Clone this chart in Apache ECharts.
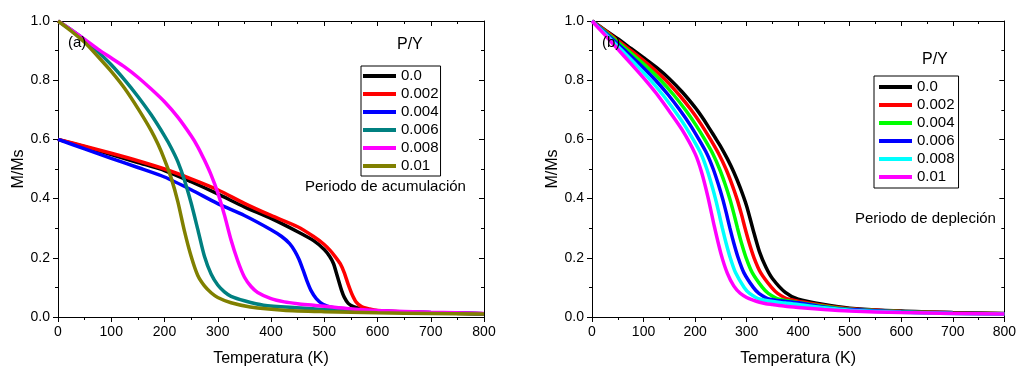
<!DOCTYPE html>
<html>
<head>
<meta charset="utf-8">
<script src="https://cdn.jsdelivr.net/npm/echarts@6/dist/echarts.min.js"></script>
<style>
  html, body { margin: 0; padding: 0; background: #fff; }
  #chart { width: 1019px; height: 372px; }
</style>
</head>
<body>
<div id="chart"></div>
<script>
// ---- Panel (a): Periodo de acumulación ----
const legendLabelsA = ['0.0', '0.002', '0.004', '0.006', '0.008', '0.01'];
const colorsA = ['#000000', '#ff0000', '#0000ff', '#008080', '#ff00ff', '#808000'];

const tA0 = [0, 50, 100, 150, 200, 250, 300, 350, 400, 450, 480, 500, 510, 517.5, 522.5, 527.5, 532.5, 537.5, 545, 555, 573, 600, 650, 700, 800];
const mA0 = [0.600, 0.575, 0.549, 0.522, 0.495, 0.457, 0.416, 0.372, 0.333, 0.288, 0.258, 0.228, 0.205, 0.180, 0.150, 0.120, 0.090, 0.067, 0.046, 0.035, 0.027, 0.020, 0.016, 0.014, 0.011];

const tA1 = [0, 50, 100, 150, 200, 250, 300, 350, 400, 450, 480, 500, 511, 520, 530, 537.5, 545, 552.5, 560, 570, 585, 600, 650, 700, 800];
const mA1 = [0.600, 0.577, 0.553, 0.528, 0.500, 0.467, 0.430, 0.384, 0.343, 0.305, 0.272, 0.245, 0.225, 0.205, 0.180, 0.150, 0.110, 0.075, 0.050, 0.035, 0.027, 0.022, 0.017, 0.014, 0.011];

const tA2 = [0, 50, 100, 150, 200, 250, 300, 350, 400, 420, 435, 445, 452.5, 460, 467.5, 475, 485, 497.5, 515, 550, 600, 700, 800];
const mA2 = [0.600, 0.568, 0.536, 0.505, 0.473, 0.430, 0.383, 0.343, 0.295, 0.272, 0.248, 0.222, 0.195, 0.160, 0.122, 0.090, 0.062, 0.043, 0.032, 0.025, 0.020, 0.015, 0.011];

const tA3 = [0, 25, 50, 75, 100, 125, 150, 175, 200, 212.5, 225, 237.5, 250, 262.5, 275, 287.5, 300, 312.5, 325, 350, 386, 448, 500, 600, 700, 800];
const mA3 = [1.0, 0.970, 0.937, 0.896, 0.852, 0.801, 0.745, 0.683, 0.612, 0.572, 0.525, 0.462, 0.385, 0.296, 0.205, 0.145, 0.108, 0.085, 0.070, 0.055, 0.040, 0.031, 0.025, 0.018, 0.014, 0.011];

const tA4 = [0, 25, 50, 75, 100, 125, 150, 175, 200, 225, 250, 262.5, 275, 287.5, 300, 312.5, 325, 337.5, 350, 362.5, 375, 400, 425, 450, 480, 542, 600, 700, 800];
const mA4 = [1.0, 0.970, 0.938, 0.905, 0.875, 0.845, 0.810, 0.770, 0.727, 0.675, 0.612, 0.575, 0.530, 0.480, 0.420, 0.345, 0.260, 0.190, 0.135, 0.103, 0.083, 0.062, 0.051, 0.045, 0.040, 0.029, 0.022, 0.016, 0.012];

const tA5 = [0, 25, 50, 75, 100, 125, 150, 175, 187.5, 200, 212.5, 225, 237.5, 250, 262.5, 275, 287.5, 300, 325, 361, 423, 500, 600, 700, 800];
const mA5 = [1.0, 0.966, 0.928, 0.880, 0.830, 0.773, 0.705, 0.630, 0.585, 0.532, 0.470, 0.390, 0.290, 0.205, 0.140, 0.105, 0.082, 0.066, 0.048, 0.034, 0.023, 0.018, 0.014, 0.012, 0.010];

// ---- Panel (b): Periodo de depleción ----
const legendLabelsB = ['0.0', '0.002', '0.004', '0.006', '0.008', '0.01'];
const colorsB = ['#000000', '#ff0000', '#00ff00', '#0000ff', '#00ffff', '#ff00ff'];

const tB0 = [0, 25, 50, 75, 100, 125, 150, 175, 200, 212.5, 225, 237.5, 250, 262.5, 275, 287.5, 300, 312.5, 325, 337.5, 350, 375, 400, 450, 500, 600, 700, 800];
const mB0 = [1.0, 0.970, 0.940, 0.908, 0.876, 0.843, 0.805, 0.760, 0.708, 0.678, 0.645, 0.610, 0.575, 0.535, 0.490, 0.437, 0.375, 0.295, 0.220, 0.168, 0.130, 0.083, 0.060, 0.042, 0.030, 0.020, 0.015, 0.012];

const tB1 = [0, 38.7, 75.6, 111.5, 143, 169.3, 192.2, 212.1, 229.9, 246.3, 259.9, 271.2, 281.1, 289.5, 297, 305, 314.4, 327.1, 348.3, 360.1, 381.7, 450, 500, 600, 700, 800];
const mB1 = [1.0, 0.95, 0.90, 0.85, 0.80, 0.75, 0.70, 0.65, 0.60, 0.55, 0.50, 0.45, 0.40, 0.35, 0.30, 0.25, 0.20, 0.15, 0.10, 0.08, 0.06, 0.039, 0.028, 0.019, 0.014, 0.011];

const tB2 = [0, 35.7, 69.8, 103.3, 133.2, 158.7, 181.1, 201, 218.7, 234.8, 247.5, 258, 267.2, 275.1, 282.3, 290, 299, 310.9, 330.6, 342, 363.3, 450, 500, 600, 700, 800];
const mB2 = [1.0, 0.95, 0.90, 0.85, 0.80, 0.75, 0.70, 0.65, 0.60, 0.55, 0.50, 0.45, 0.40, 0.35, 0.30, 0.25, 0.20, 0.15, 0.10, 0.08, 0.06, 0.036, 0.026, 0.018, 0.013, 0.011];

const tB3 = [0, 32.6, 64.1, 95, 123.4, 148.2, 170.1, 190, 207.4, 223.4, 235.2, 244.8, 253.4, 260.8, 267.6, 275.1, 283.6, 294.6, 312.9, 323.8, 345, 400, 450, 500, 600, 700, 800];
const mB3 = [1.0, 0.95, 0.90, 0.85, 0.80, 0.75, 0.70, 0.65, 0.60, 0.55, 0.50, 0.45, 0.40, 0.35, 0.30, 0.25, 0.20, 0.15, 0.10, 0.08, 0.06, 0.048, 0.034, 0.025, 0.017, 0.013, 0.010];

const tB4 = [0, 29.6, 58.3, 86.8, 113.6, 137.6, 159, 178.9, 196.2, 211.9, 222.8, 231.6, 239.5, 246.4, 252.9, 260.1, 268.2, 278.4, 295.2, 305.7, 326.6, 375, 400, 450, 500, 600, 700, 800];
const mB4 = [1.0, 0.95, 0.90, 0.85, 0.80, 0.75, 0.70, 0.65, 0.60, 0.55, 0.50, 0.45, 0.40, 0.35, 0.30, 0.25, 0.20, 0.15, 0.10, 0.08, 0.06, 0.047, 0.042, 0.031, 0.023, 0.016, 0.012, 0.010];

const tB5 = [0, 25, 50, 75, 100, 125, 150, 175, 200, 212.5, 225, 237.5, 250, 262.5, 275, 287.5, 300, 312.5, 325, 337.5, 350, 375, 400, 450, 500, 600, 700, 800];
const mB5 = [1.0, 0.953, 0.905, 0.857, 0.808, 0.755, 0.695, 0.632, 0.552, 0.490, 0.405, 0.305, 0.215, 0.148, 0.105, 0.080, 0.066, 0.057, 0.050, 0.045, 0.042, 0.036, 0.032, 0.025, 0.020, 0.015, 0.012, 0.010];

// ---- Axis ticks ----
const tempTicks = { min: 0, max: 800, step: 100 };
const magTicks = { min: 0, max: 1, step: 0.2 };

const FONT = '"Liberation Sans", Arial, Helvetica, sans-serif';

const pairs = (xs, ys) => xs.map((x, i) => [x, ys[i]]);

const seriesA = [[tA0, mA0], [tA1, mA1], [tA2, mA2], [tA3, mA3], [tA4, mA4], [tA5, mA5]];
const seriesB = [[tB0, mB0], [tB1, mB1], [tB2, mB2], [tB3, mB3], [tB4, mB4], [tB5, mB5]];

function makeX(grid, top) {
  return {
    type: 'value', gridIndex: grid, position: top ? 'top' : 'bottom',
    min: tempTicks.min, max: tempTicks.max, interval: tempTicks.step,
    axisLine: { show: true, onZero: false, lineStyle: { color: '#000', width: 1 } },
    axisTick: { show: true, inside: top, length: 5, lineStyle: { color: '#000', width: 1 } },
    minorTick: { show: true, splitNumber: 2, length: 3, lineStyle: { color: '#000', width: 1 } },
    splitLine: { show: false }, minorSplitLine: { show: false },
    axisLabel: { show: !top, color: '#000', fontSize: 14, fontFamily: FONT, margin: 8 },
    name: top ? '' : 'Temperatura (K)', nameLocation: 'middle', nameGap: 34,
    nameTextStyle: { color: '#000', fontSize: 16, fontFamily: FONT }
  };
}
function makeY(grid, right) {
  return {
    type: 'value', gridIndex: grid, position: right ? 'right' : 'left',
    min: magTicks.min, max: magTicks.max, interval: magTicks.step,
    axisLine: { show: true, onZero: false, lineStyle: { color: '#000', width: 1 } },
    axisTick: { show: true, inside: right, length: 5, lineStyle: { color: '#000', width: 1 } },
    minorTick: { show: true, splitNumber: 2, length: 3, lineStyle: { color: '#000', width: 1 } },
    splitLine: { show: false }, minorSplitLine: { show: false },
    axisLabel: { show: !right, color: '#000', fontSize: 14, fontFamily: FONT, margin: 8,
      formatter: v => v.toFixed(1) },
    name: right ? '' : 'M/Ms', nameLocation: 'middle', nameGap: 31,
    nameTextStyle: { color: '#000', fontSize: 16, fontFamily: FONT }
  };
}

const series = [];
seriesA.forEach(([xs, ys], i) => series.push({
  name: 'a|' + legendLabelsA[i], type: 'line', xAxisIndex: 0, yAxisIndex: 0,
  data: pairs(xs, ys), showSymbol: false, symbol: 'none', smooth: 0.25,
  color: colorsA[i], lineStyle: { color: colorsA[i], width: 3.5 }
}));
seriesB.forEach(([xs, ys], i) => series.push({
  name: 'b|' + legendLabelsB[i], type: 'line', xAxisIndex: 2, yAxisIndex: 2,
  data: pairs(xs, ys), showSymbol: false, symbol: 'none', smooth: 0.25,
  color: colorsB[i], lineStyle: { color: colorsB[i], width: 3.5 }
}));

function makeLegend(prefix, labels, left, top, padding) {
  return {
    data: labels.map(l => prefix + '|' + l),
    orient: 'vertical', left: left, top: top,
    borderColor: '#000', borderWidth: 1, padding: padding,
    itemGap: 0, itemWidth: 33, itemHeight: 4, icon: 'rect',
    selectedMode: false,
    formatter: n => n.split('|')[1],
    textStyle: { color: '#000', fontSize: 15, lineHeight: 18, fontFamily: FONT }
  };
}

const textStyle = (t, size) => ({ text: t, fill: '#000', font: size + 'px ' + FONT });

const option = {
  animation: false,
  backgroundColor: '#fff',
  grid: [
    { left: 58, top: 21, width: 426, height: 301, containLabel: false },
    { left: 592, top: 21, width: 417, height: 301, containLabel: false }
  ],
  xAxis: [makeX(0, false), makeX(0, true), makeX(1, false), makeX(1, true)],
  yAxis: [makeY(0, false), makeY(0, true), makeY(1, false), makeY(1, true)],
  legend: [
    makeLegend('a', legendLabelsA, 361, 66, [1, 2, 1, 2]),
    makeLegend('b', legendLabelsB, 874, 76, [2, 4, 2, 5])
  ],
  graphic: [
    { type: 'text', z: 100, left: 68, top: 35, style: textStyle('(a)', 15) },
    { type: 'text', z: 100, left: 397, top: 37, style: textStyle('P/Y', 16) },
    { type: 'text', z: 100, left: 305, top: 179, style: textStyle('Periodo de acumulación', 15) },
    { type: 'text', z: 100, left: 602, top: 35, style: textStyle('(b)', 15) },
    { type: 'text', z: 100, left: 922, top: 52, style: textStyle('P/Y', 16) },
    { type: 'text', z: 100, left: 855, top: 211, style: textStyle('Periodo de depleción', 15) }
  ],
  series: series
};

echarts.init(document.getElementById('chart'), null, { renderer: 'canvas' }).setOption(option);
</script>
</body>
</html>
